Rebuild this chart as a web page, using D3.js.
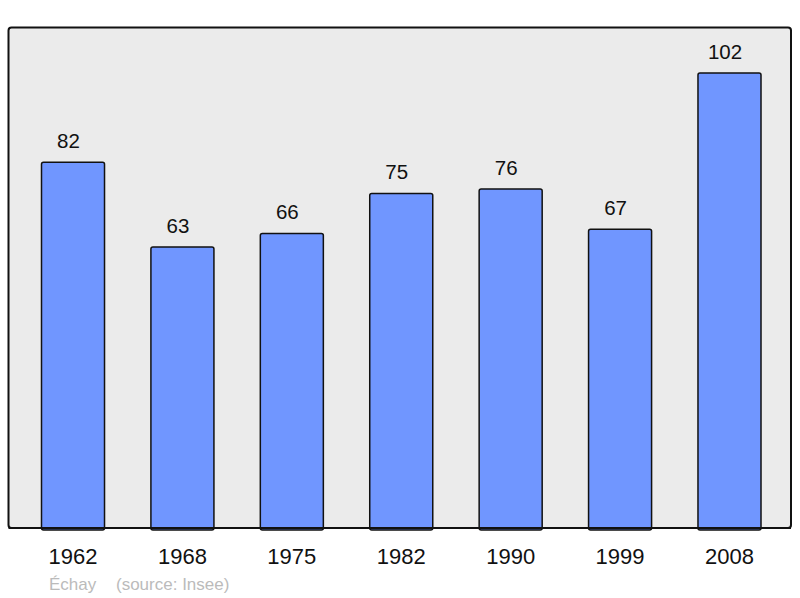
<!DOCTYPE html>
<html><head><meta charset="utf-8">
<script src="https://cdn.jsdelivr.net/npm/d3@7"></script>
<style>body{margin:0;background:#fff}svg{display:block}</style>
</head><body>
<script>
const years = ["1962","1968","1975","1982","1990","1999","2008"];
const population = [82,63,66,75,76,67,102];
const title = "Échay";
const source = "(source: Insee)";

const W = 800, H = 598;
const svg = d3.select("body").append("svg").attr("width", W).attr("height", H);
const font = "'Liberation Sans', Arial, sans-serif";

// frame
svg.append("rect").attr("x", 8.5).attr("y", 27.5).attr("width", 782.5).attr("height", 500.5)
  .attr("rx", 3).attr("fill", "#ebebeb").attr("stroke", "#111").attr("stroke-width", 2);

const x = d3.scaleBand().domain(years).range([41.5, 761]).paddingInner(0.424).paddingOuter(0);
const y = d3.scaleLinear().domain([0, 102]).range([528, 73]);

svg.selectAll("rect.bar").data(population).enter().append("rect").attr("class","bar")
  .attr("x", (d,i) => x(years[i]))
  .attr("y", d => y(d))
  .attr("width", x.bandwidth())
  .attr("height", d => y(0) - y(d) + 2)
  .attr("rx", 2)
  .attr("fill", "#7096ff").attr("stroke", "#111").attr("stroke-width", 1.5);

// redraw bottom edge of frame over bars
svg.append("line").attr("x1", 8.5).attr("x2", 791).attr("y1", 528).attr("y2", 528)
  .attr("stroke", "#111").attr("stroke-width", 2);

svg.selectAll("text.val").data(population).enter().append("text").attr("class","val")
  .attr("x", (d,i) => x(years[i]) + x.bandwidth()/2 - 4.5)
  .attr("y", d => y(d) - 14.4)
  .attr("text-anchor", "middle").attr("font-family", font).attr("font-size", 20.5)
  .attr("fill", "#111").text(d => d);

const xAxis = svg.append("g").attr("transform", "translate(0,528)")
  .call(d3.axisBottom(x).tickSize(0).tickPadding(0));
xAxis.select(".domain").remove();
xAxis.selectAll("text").attr("dy", null).attr("y", 36).attr("font-family", font)
  .attr("font-size", 22).attr("fill", "#111");

svg.append("text").attr("x", 49).attr("y", 590).attr("font-family", font).attr("font-size", 17)
  .attr("fill", "#bbb").text(title);
svg.append("text").attr("x", 116).attr("y", 590).attr("font-family", font).attr("font-size", 17)
  .attr("fill", "#bbb").text(source);
</script>
</body></html>
